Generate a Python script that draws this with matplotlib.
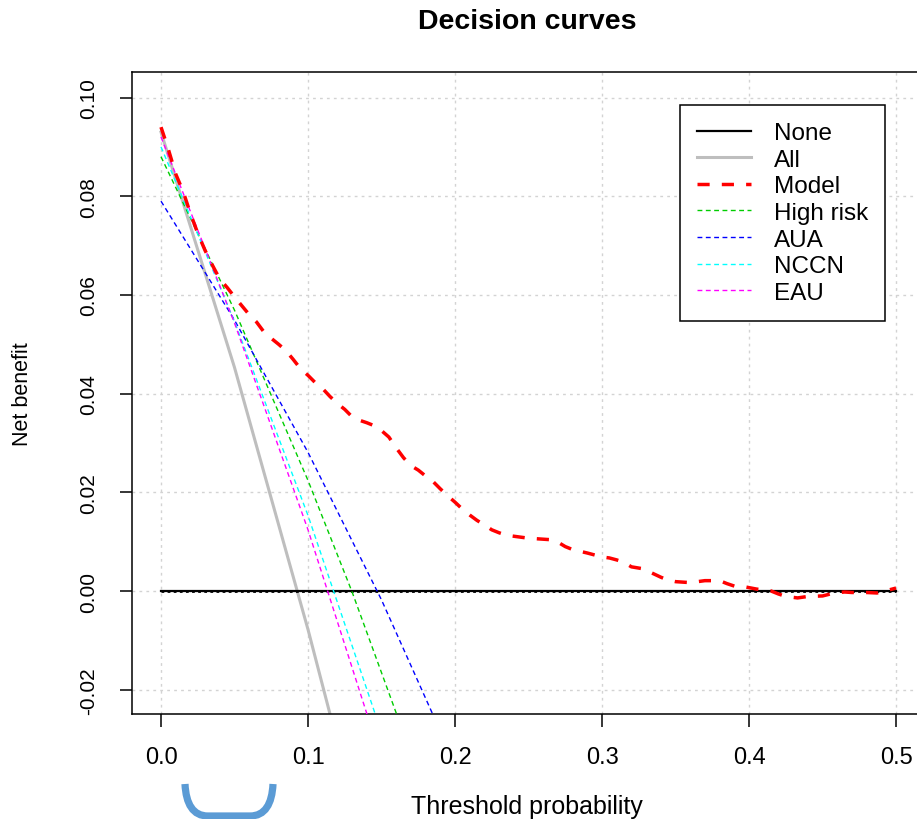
import matplotlib
matplotlib.use('Agg')
import matplotlib.pyplot as plt
from matplotlib import font_manager
from matplotlib.path import Path
from matplotlib.patches import PathPatch
import numpy as np

# threshold probabilities and net benefit
model_x = [0.000, 0.005, 0.010, 0.015, 0.020, 0.025, 0.030, 0.035, 0.040, 0.045,
           0.050, 0.055, 0.060, 0.065, 0.070, 0.075, 0.080, 0.085, 0.090, 0.095,
           0.100, 0.105, 0.110, 0.115, 0.120, 0.125, 0.130, 0.135, 0.140, 0.145,
           0.150, 0.155, 0.160, 0.165, 0.170, 0.175, 0.180, 0.185, 0.190, 0.195,
           0.200, 0.205, 0.210, 0.215, 0.220, 0.225, 0.230, 0.235, 0.240, 0.245,
           0.250, 0.260, 0.265, 0.270, 0.275, 0.280, 0.290, 0.300, 0.305, 0.310,
           0.315, 0.320, 0.328, 0.335, 0.340, 0.345, 0.350, 0.360, 0.365, 0.370,
           0.380, 0.385, 0.390, 0.398, 0.405, 0.415, 0.420, 0.425, 0.433, 0.440,
           0.450, 0.458, 0.465, 0.470, 0.480, 0.487, 0.495, 0.500]
model_nb = [0.0940, 0.0895, 0.0845, 0.0810, 0.0765, 0.0725, 0.0690, 0.0660, 0.0632, 0.0615,
            0.0596, 0.0578, 0.0560, 0.0545, 0.0525, 0.0512, 0.0500, 0.0487, 0.0469, 0.0450,
            0.0437, 0.0422, 0.0410, 0.0394, 0.0380, 0.0368, 0.0353, 0.0346, 0.0341, 0.0335,
            0.0325, 0.0312, 0.0290, 0.0270, 0.0254, 0.0245, 0.0233, 0.0222, 0.0207, 0.0193,
            0.0180, 0.0166, 0.0154, 0.0143, 0.0134, 0.0124, 0.0118, 0.0113, 0.0111, 0.0109,
            0.0107, 0.0105, 0.0104, 0.0099, 0.0090, 0.0084, 0.0077, 0.0069, 0.0067, 0.0063,
            0.0058, 0.0049, 0.0045, 0.0035, 0.0028, 0.0022, 0.0019, 0.0017, 0.0019, 0.0021,
            0.0021, 0.0015, 0.0010, 0.0008, 0.0004, 0.0000, -0.0006, -0.0011, -0.0014, -0.0011,
            -0.0010, -0.0004, -0.0002, -0.0003, -0.0003, -0.0004, 0.0002, 0.0006]

none_x = [0.0, 0.5]
none_nb = [0.0, 0.0]

all_x = [0.00, 0.05, 0.10, 0.12]
all_nb = [0.0930, 0.0453, -0.0078, -0.0307]

high_x = [0.00, 0.05, 0.10, 0.13, 0.17]
high_nb = [0.0880, 0.0569, 0.0224, -0.0002, -0.0329]

aua_x = [0.00, 0.05, 0.10, 0.15, 0.19]
aua_nb = [0.0790, 0.0549, 0.0281, -0.0018, -0.0284]

nccn_x = [0.00, 0.05, 0.10, 0.15]
nccn_nb = [0.0900, 0.0546, 0.0153, -0.0287]

eau_x = [0.00, 0.05, 0.10, 0.145]
eau_nb = [0.0920, 0.0543, 0.0124, -0.0295]

x_ticks = [0.0, 0.1, 0.2, 0.3, 0.4, 0.5]
x_labels = ['0.0', '0.1', '0.2', '0.3', '0.4', '0.5']
y_ticks = [-0.02, 0.00, 0.02, 0.04, 0.06, 0.08, 0.10]
y_labels = ['-0.02', '0.00', '0.02', '0.04', '0.06', '0.08', '0.10']

W, H = 917, 820
plt.rcParams['font.family'] = ['Liberation Sans', 'DejaVu Sans']

# rotated labels in the original are condensed, use the narrow face if present
names = set(f.name for f in font_manager.fontManager.ttflist)
if 'Liberation Sans Narrow' in names:
    yfont, ysize = 'Liberation Sans Narrow', 18
else:
    yfont, ysize = 'Liberation Sans', 15

fig = plt.figure(figsize=(W / 100, H / 100), dpi=100)
ax = fig.add_axes([131.6 / W, 1 - 715 / H, 793.4 / W, 642 / H])

ax.plot(none_x, none_nb, color='black', lw=1.6, label='None', zorder=3)
ax.plot(none_x, none_nb, color='black', lw=2.0, linestyle=(0, (1, 1.2)), zorder=3)
ax.plot(all_x, all_nb, color='#BEBEBE', lw=2.2, label='All', zorder=2)
ax.plot(model_x, model_nb, color='red', lw=2.5, linestyle=(0, (3.5, 3.5)), label='Model', zorder=4)
thin = (0, (3.5, 2.5))
ax.plot(high_x, high_nb, color='#00CD00', lw=1.0, linestyle=thin, label='High risk', zorder=3)
ax.plot(aua_x, aua_nb, color='blue', lw=1.0, linestyle=thin, label='AUA', zorder=3)
ax.plot(nccn_x, nccn_nb, color='cyan', lw=1.0, linestyle=thin, label='NCCN', zorder=3)
ax.plot(eau_x, eau_nb, color='magenta', lw=1.0, linestyle=thin, label='EAU', zorder=3)

ax.set_xlim(-0.0200, 0.5197)
ax.set_ylim(-0.02492, 0.10517)
ax.set_xticks(x_ticks)
ax.set_xticklabels(x_labels, fontsize=17)
ax.set_yticks(y_ticks)
ax.set_yticklabels(y_labels, fontsize=ysize, family=yfont, rotation=90, va='center')
ax.tick_params(axis='both', direction='out', length=9, width=1.1, color='black')
ax.tick_params(axis='x', pad=14)
ax.tick_params(axis='y', pad=15)
ax.grid(True, color='#D3D3D3', linestyle=(0, (2, 3)), lw=1.0)
ax.set_axisbelow(True)
for s in ax.spines.values():
    s.set_linewidth(1.1)

leg = ax.legend(loc='upper right', bbox_to_anchor=(0.9496, 0.9486), fontsize=17.5,
                frameon=True, fancybox=False, edgecolor='black', framealpha=1,
                handlelength=2.2, handletextpad=0.95, labelspacing=0.19,
                borderpad=0.7, borderaxespad=0)
leg.get_frame().set_linewidth(1.1)

fig.text(527 / W, 1 - 22 / H, 'Decision curves', ha='center', va='center',
         fontsize=20.5, fontweight='bold')
fig.text(23 / W, 1 - 394 / H, 'Net benefit', ha='center', va='center',
         rotation=90, fontsize=15.5)
fig.text(527 / W, 1 - 814 / H, 'Threshold probability', ha='center', va='baseline',
         fontsize=18)

# blue bracket drawn over the screenshot below the axis
pts = [(185, 785), (186, 805), (193, 817), (208, 817), (250, 817),
       (265, 817), (272, 805), (273, 785)]
verts = [(px / W, 1 - py / H) for px, py in pts]
codes = [Path.MOVETO, Path.CURVE4, Path.CURVE4, Path.CURVE4, Path.LINETO,
         Path.CURVE4, Path.CURVE4, Path.CURVE4]
fig.patches.append(PathPatch(Path(verts, codes), transform=fig.transFigure,
                             fill=False, edgecolor='#5B9BD5', lw=5.2, capstyle='butt'))

fig.savefig('out.png', dpi=100)
